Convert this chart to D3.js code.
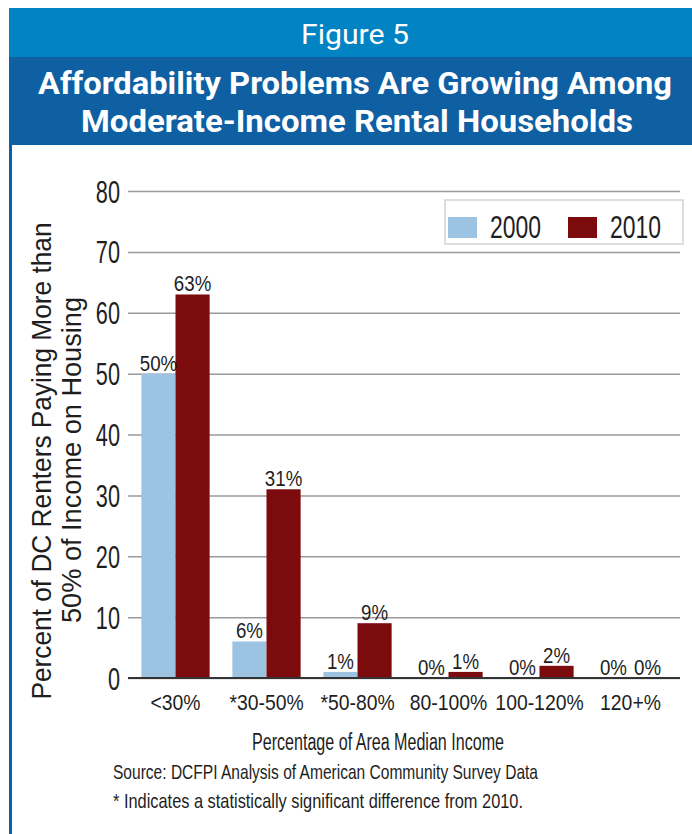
<!DOCTYPE html>
<html>
<head>
<meta charset="utf-8">
<script src="https://cdn.jsdelivr.net/npm/d3@7"></script>
<style>
  html, body { margin: 0; padding: 0; background: #fff; }
  svg { display: block; }
</style>
</head>
<body>
<div id="chart"></div>
<script>
// Income bands (share of Area Median Income)
const categories = ["<30%", "*30-50%", "*50-80%", "80-100%", "100-120%", "120+%"];
const series = ["2000", "2010"];
const values2000 = [50, 6, 1, 0, 0, 0];
const values2010 = [63, 31, 9, 1, 2, 0];
const yTicks = [0, 10, 20, 30, 40, 50, 60, 70, 80];
const colors = ["#9dc3e3", "#7c0b0d"];

const W = 692, H = 834;
const bodyFont = "'Liberation Sans', Arial, sans-serif";
const titleFont = "Roboto, 'Liberation Sans', sans-serif";
const ink = "#1e1e1e";

const svg = d3.select("#chart").append("svg").attr("width", W).attr("height", H);

// Squeeze a text horizontally (along its own baseline) to mimic a condensed face
function condense(sel, sx) {
  sel.each(function () {
    const t = d3.select(this);
    const x = +t.attr("x") || 0, y = +t.attr("y") || 0;
    const prev = t.attr("transform") || "";
    t.attr("x", 0).attr("y", 0)
      .attr("transform", `${prev} translate(${x},${y}) scale(${sx},1)`);
  });
}

// Header bands
svg.append("rect").attr("x", 9).attr("y", 8).attr("width", W - 9).attr("height", 49).attr("fill", "#0283c3");
svg.append("rect").attr("x", 9).attr("y", 57).attr("width", W - 9).attr("height", 88).attr("fill", "#0f5fa3");
// Left frame rule
svg.append("rect").attr("x", 9).attr("y", 145).attr("width", 3).attr("height", H - 145).attr("fill", "#0f5fa3");

svg.append("text").attr("x", 355).attr("y", 44).attr("text-anchor", "middle")
  .attr("fill", "#fff").attr("font-family", titleFont).attr("font-size", 28)
  .attr("textLength", 108).attr("lengthAdjust", "spacingAndGlyphs").text("Figure 5");
svg.append("text").attr("x", 355).attr("y", 94).attr("text-anchor", "middle")
  .attr("fill", "#fff").attr("font-family", titleFont).attr("font-weight", "bold").attr("font-size", 32)
  .attr("textLength", 634).attr("lengthAdjust", "spacingAndGlyphs")
  .text("Affordability Problems Are Growing Among");
svg.append("text").attr("x", 357).attr("y", 132).attr("text-anchor", "middle")
  .attr("fill", "#fff").attr("font-family", titleFont).attr("font-weight", "bold").attr("font-size", 32)
  .attr("textLength", 552).attr("lengthAdjust", "spacingAndGlyphs")
  .text("Moderate-Income Rental Households");

// Scales
const x0 = d3.scaleBand().domain(categories).range([130, 676]).paddingInner(0.25).paddingOuter(0.125);
const x1 = d3.scaleBand().domain(series).range([0, x0.bandwidth()]);
const y = d3.scaleLinear().domain([0, 80]).range([678, 191]);

// Gridlines and y-axis labels
const yAxis = d3.axisLeft(y).tickValues(yTicks).tickSize(-552).tickFormat(d3.format("d"));
const gY = svg.append("g").attr("transform", "translate(128,0)").call(yAxis);
gY.select(".domain").remove();
gY.selectAll(".tick line").attr("stroke", "#9a9a9a").attr("stroke-width", 1.5);
gY.selectAll(".tick text").attr("font-family", bodyFont).attr("font-size", 31)
  .attr("fill", ink).attr("x", -8).attr("y", 11).attr("dy", null);
condense(gY.selectAll(".tick text"), 0.7);

// Bars
const rows = categories.map((c, i) => ({ cat: c, vals: [values2000[i], values2010[i]] }));
const groups = svg.append("g").selectAll("g").data(rows).join("g")
  .attr("transform", d => `translate(${x0(d.cat)},0)`);
groups.selectAll("rect").data(d => d.vals.map((v, j) => ({ v, s: series[j], j }))).join("rect")
  .attr("x", d => x1(d.s)).attr("width", x1.bandwidth())
  .attr("y", d => y(d.v)).attr("height", d => y(0) - y(d.v))
  .attr("fill", d => colors[d.j]);

// Value labels
const vl = groups.selectAll("text").data(d => d.vals.map((v, j) => ({ v, s: series[j] }))).join("text")
  .attr("x", d => x1(d.s) + x1.bandwidth() / 2)
  .attr("y", d => y(d.v) - 3)
  .attr("text-anchor", "middle").attr("font-family", bodyFont).attr("font-size", 22).attr("fill", ink)
  .text(d => d.v + "%");
condense(vl, 0.85);

// Baseline
svg.append("line").attr("x1", 128).attr("x2", 680).attr("y1", y(0)).attr("y2", y(0))
  .attr("stroke", "#333").attr("stroke-width", 2);

// Category labels
const xAxis = d3.axisBottom(x0).tickSize(0);
const gX = svg.append("g").attr("transform", `translate(0,${y(0)})`).call(xAxis);
gX.select(".domain").remove();
gX.selectAll(".tick text").attr("font-family", bodyFont).attr("font-size", 22)
  .attr("fill", ink).attr("y", 32).attr("dy", null);
condense(gX.selectAll(".tick text"), 0.88);

// Legend
const lg = svg.append("g").attr("transform", "translate(445,200)");
lg.append("rect").attr("width", 238).attr("height", 44).attr("fill", "#fff")
  .attr("stroke", "#d4d4d4").attr("stroke-width", 1.5);
series.forEach((s, i) => {
  const gx = 3 + i * 120;
  lg.append("rect").attr("x", gx).attr("y", 17).attr("width", 29).attr("height", 21).attr("fill", colors[i]);
  lg.append("text").attr("x", gx + 42).attr("y", 38)
    .attr("font-family", bodyFont).attr("font-size", 31).attr("fill", ink)
    .attr("textLength", 51).attr("lengthAdjust", "spacingAndGlyphs").text(s);
});

// Axis titles
svg.append("text").attr("transform", "translate(51,461) rotate(-90)")
  .attr("text-anchor", "middle").attr("font-family", bodyFont).attr("font-size", 28).attr("fill", ink)
  .attr("textLength", 477).attr("lengthAdjust", "spacingAndGlyphs")
  .text("Percent of DC Renters Paying More than");
svg.append("text").attr("transform", "translate(81,460) rotate(-90)")
  .attr("text-anchor", "middle").attr("font-family", bodyFont).attr("font-size", 28).attr("fill", ink)
  .attr("textLength", 326).attr("lengthAdjust", "spacingAndGlyphs")
  .text("50% of Income on Housing");
svg.append("text").attr("x", 378).attr("y", 750)
  .attr("text-anchor", "middle").attr("font-family", bodyFont).attr("font-size", 23).attr("fill", ink)
  .attr("textLength", 252).attr("lengthAdjust", "spacingAndGlyphs")
  .text("Percentage of Area Median Income");

// Notes
svg.append("text").attr("x", 113).attr("y", 779)
  .attr("font-family", bodyFont).attr("font-size", 21).attr("fill", ink)
  .attr("textLength", 425).attr("lengthAdjust", "spacingAndGlyphs")
  .text("Source: DCFPI Analysis of American Community Survey Data");
svg.append("text").attr("x", 113).attr("y", 808)
  .attr("font-family", bodyFont).attr("font-size", 21).attr("fill", ink)
  .attr("textLength", 410).attr("lengthAdjust", "spacingAndGlyphs")
  .text("* Indicates a statistically significant difference from 2010.");
</script>
</body>
</html>
